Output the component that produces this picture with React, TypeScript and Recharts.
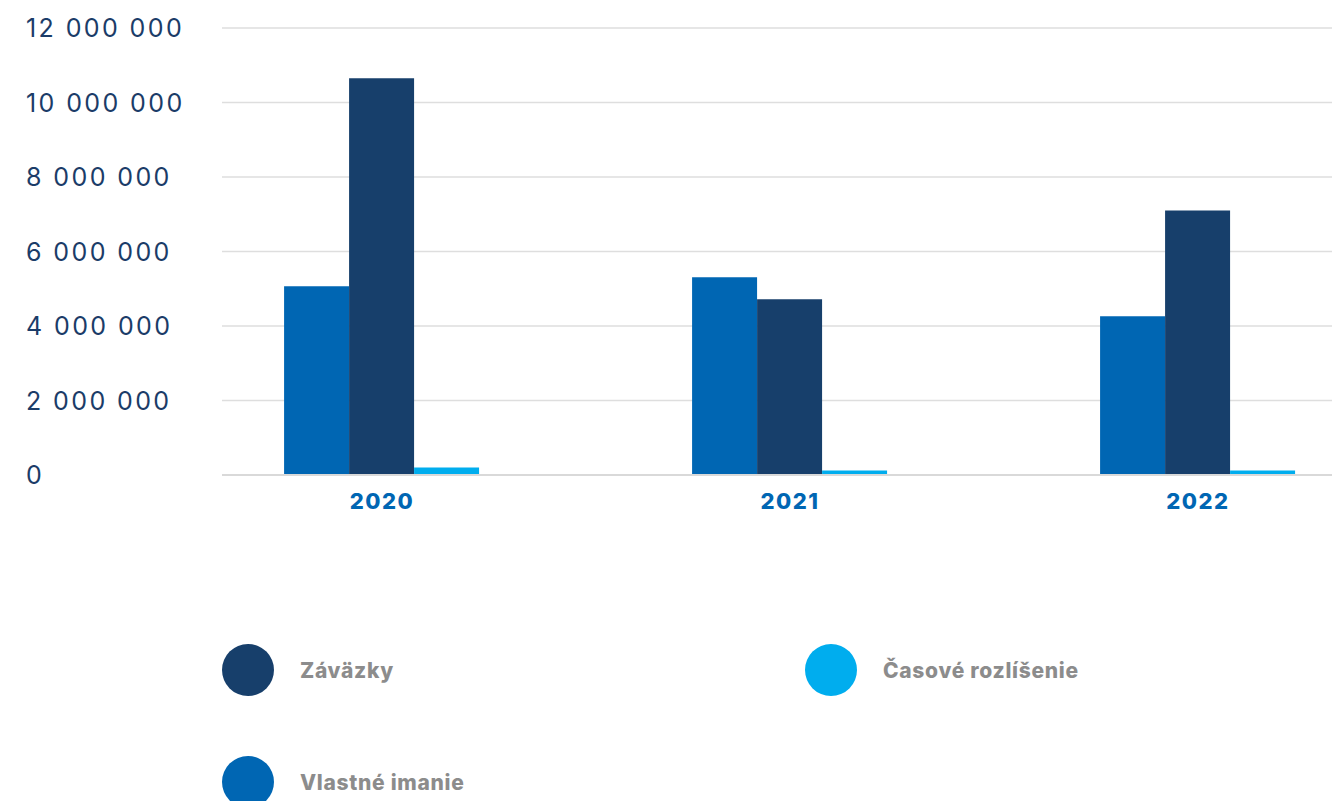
import { BarChart, Bar, XAxis, YAxis, CartesianGrid } from 'recharts';

const YEARS = ['2020', '2021', '2022'];
const VLASTNE_IMANIE = [5070000, 5310000, 4260000];
const ZAVAZKY = [10650000, 4720000, 7100000];
const CASOVE_ROZLISENIE = [200000, 120000, 120000];
const Y_TICKS = [0, 2000000, 4000000, 6000000, 8000000, 10000000, 12000000];

const SERIES = [
  { key: 'vlastne', name: 'Vlastné imanie', color: '#0066b3' },
  { key: 'zavazky', name: 'Záväzky', color: '#173f6b' },
  { key: 'casove', name: 'Časové rozlíšenie', color: '#00adee' },
];

// legend is laid out in two columns in this order
const LEGEND_ORDER = ['zavazky', 'casove', 'vlastne'];

const data = YEARS.map((year, i) => ({
  year,
  vlastne: VLASTNE_IMANIE[i],
  zavazky: ZAVAZKY[i],
  casove: CASOVE_ROZLISENIE[i],
}));

const FONT = 'Inter, "Open Sans", sans-serif';

const fmt = (v: number) => String(v).replace(/\B(?=(\d{3})+(?!\d))/g, ' ');

function YTick(props: any) {
  const { y, payload } = props;
  return (
    <text
      x={26}
      y={y}
      dy={9}
      textAnchor="start"
      fill="#1b3c68"
      fontSize={25}
      fontFamily={FONT}
      letterSpacing={2.4}
    >
      {fmt(payload.value)}
    </text>
  );
}

function ChartLegend() {
  return (
    <div
      style={{
        position: 'absolute',
        left: 222,
        top: 644,
        width: 1100,
        display: 'grid',
        gridTemplateColumns: '583px 500px',
        rowGap: 60,
        fontFamily: FONT,
      }}
    >
      {LEGEND_ORDER.map((k) => {
        const s = SERIES.find((x) => x.key === k)!;
        return (
          <div key={k} style={{ display: 'flex', alignItems: 'center', height: 52 }}>
            <span
              style={{
                width: 52,
                height: 52,
                borderRadius: '50%',
                background: s.color,
                display: 'inline-block',
                marginRight: 26,
              }}
            />
            <span style={{ color: '#8c8c8c', fontWeight: 800, fontSize: 21, letterSpacing: 0.7 }}>
              {s.name}
            </span>
          </div>
        );
      })}
    </div>
  );
}

export default function App() {
  return (
    <div style={{ position: 'absolute', left: 0, top: 0, width: 1332, height: 801, background: '#fff' }}>
      <BarChart
        width={1332}
        height={530}
        data={data}
        margin={{ top: 28, right: 0, bottom: 0, left: 0 }}
        barCategoryGap="26%"
        barGap={0}
      >
        <CartesianGrid vertical={false} stroke="#dedede" strokeWidth={1.5} />
        <YAxis
          width={222}
          domain={[0, 12000000]}
          ticks={Y_TICKS}
          axisLine={false}
          tickLine={false}
          tick={<YTick />}
        />
        <XAxis
          dataKey="year"
          height={55}
          padding={{ left: -44, right: -70 }}
          axisLine={{ stroke: '#d9d9d9', strokeWidth: 2 }}
          tickLine={false}
          tick={{ fill: '#0066b3', fontSize: 22, fontWeight: 800, fontFamily: FONT, letterSpacing: 1.5 }}
          tickMargin={12}
        />
        {SERIES.map((s) => (
          <Bar key={s.key} dataKey={s.key} name={s.name} fill={s.color} isAnimationActive={false} />
        ))}
      </BarChart>
      <ChartLegend />
    </div>
  );
}
